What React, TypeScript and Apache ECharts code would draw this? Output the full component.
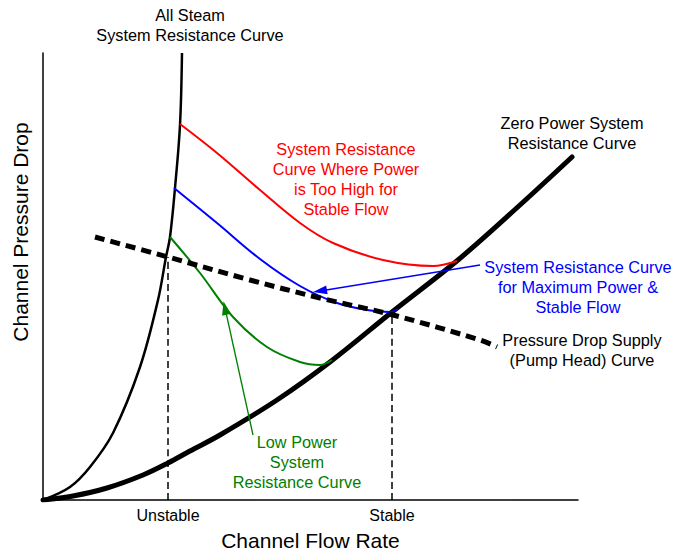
import React, { useEffect, useRef } from "react";
import * as echarts from "echarts";

// Units: arbitrary flow (x) and pressure drop (y)
const allSteam: [number, number][] = [[0,0],[27,13],[47,33],[70,67],[97,133],[115,200],[123,243],[127,263],[132,312],[137,375],[139,447]];
const zeroPower: [number, number][] = [[0,0],[30,4],[64,12],[100,25],[125,37],[147,49],[177,65],[234,100],[287,138],[349,188],[415,240],[477,295],[529,343]];
const redCurve: [number, number][] = [[137,376],[174,347],[217,310],[257,277],[290,257],[340,240],[390,234],[414,239]];
const blueCurve: [number, number][] = [[131,312],[174,277],[217,241],[257,214],[294,197],[324,190],[347,188],[355,191]];
const greenCurve: [number, number][] = [[127,263],[157,227],[190,183],[224,153],[257,138],[277,135],[289,140]];
const supplyCurve: [number, number][] = [[52,263],[125,243],[207,220],[277,202],[350,185],[437,160],[454,153]];
const unstableLine: [number, number][] = [[125,0],[125,243]];
const stableLine: [number, number][] = [[349,0],[349,186]];
const tickValues = [125, 349];
const tickNames = ["Unstable", "Stable"];
const blueArrow: [number, number][] = [[437,235],[277,209]];
const greenArrow: [number, number][] = [[210,65],[182,192]];

const FONT = "Liberation Sans, Arial, sans-serif";

export default function App() {
  const ref = useRef<HTMLDivElement>(null);
  useEffect(() => {
    if (!ref.current) return;
    const chart = echarts.init(ref.current, undefined, { renderer: "svg" });
    const line = (data: [number, number][], color: string, width: number, extra: any = {}) => ({
      type: "line",
      data,
      symbol: "none",
      smooth: 0.35,
      silent: true,
      lineStyle: { color, width, ...extra },
      z: 3,
    });
    const arrow = (pts: [number, number][], color: string) => ({
      type: "line",
      data: [],
      silent: true,
      markLine: {
        silent: true,
        symbol: ["none", "triangle"],
        symbolSize: [9, 14],
        label: { show: false },
        lineStyle: { color, width: 1.3, type: "solid" },
        data: [[{ coord: pts[0] }, { coord: pts[1] }]],
      },
      z: 4,
    });
    const text = (x: number, y: number, lines: string[], color: string, size = 16.3, rotation = 0) => ({
      type: "text",
      x,
      y,
      rotation,
      style: {
        text: lines.join("\n"),
        fill: color,
        font: `${size}px ${FONT}`,
        textAlign: "center",
        textVerticalAlign: "middle",
        lineHeight: 20,
      },
    });
    chart.setOption({
      animation: false,
      grid: { left: 43, top: 53, width: 535, height: 447, outerBoundsMode: "none", containLabel: false },
      xAxis: {
        type: "value",
        min: 0,
        max: 535,
        splitLine: { show: false },
        axisLine: { show: true, lineStyle: { color: "#000", width: 1.5 } },
        axisTick: { show: false },
        axisLabel: {
          customValues: tickValues,
          formatter: (v: number) => tickNames[tickValues.indexOf(v)] ?? "",
          color: "#000",
          fontSize: 16,
          fontFamily: FONT,
          margin: 7,
        },
        name: "Channel Flow Rate",
        nameLocation: "middle",
        nameGap: 30,
        nameTextStyle: { color: "#000", fontSize: 21, fontFamily: FONT },
      },
      yAxis: {
        type: "value",
        min: 0,
        max: 447,
        splitLine: { show: false },
        axisLine: { show: true, lineStyle: { color: "#000", width: 1.5 } },
        axisTick: { show: false },
        axisLabel: { show: false },
      },
      series: [
        line(unstableLine, "#000", 1.5, { type: [7, 4] }),
        line(stableLine, "#000", 1.5, { type: [7, 4] }),
        line(allSteam, "#000", 2.5),
        line(zeroPower, "#000", 5, { cap: "round" }),
        line(redCurve, "#ff0000", 2),
        line(blueCurve, "#0000ff", 2),
        line(greenCurve, "#008000", 2),
        line(supplyCurve, "#000", 5, { type: [10, 6] }),
        arrow(blueArrow, "#0000ff"),
        arrow(greenArrow, "#008000"),
      ],
      graphic: [
        text(20, 232, ["Channel Pressure Drop"], "#000", 21, Math.PI / 2),
        text(190, 25, ["All Steam", "System Resistance Curve"], "#000"),
        text(572, 133, ["Zero Power System", "Resistance Curve"], "#000"),
        text(346, 179, ["System Resistance", "Curve Where Power", "is Too High for", "Stable Flow"], "#ff0000"),
        text(578, 287, ["System Resistance Curve", "for Maximum Power &", "Stable Flow"], "#0000ff"),
        text(582, 350, ["Pressure Drop Supply", "(Pump Head) Curve"], "#000"),
        text(297, 462, ["Low Power", "System", "Resistance Curve"], "#008000"),
      ],
    });
    return () => chart.dispose();
  }, []);
  return <div ref={ref} style={{ position: "fixed", left: 0, top: 0, width: 678, height: 552, background: "#fff" }} />;
}
